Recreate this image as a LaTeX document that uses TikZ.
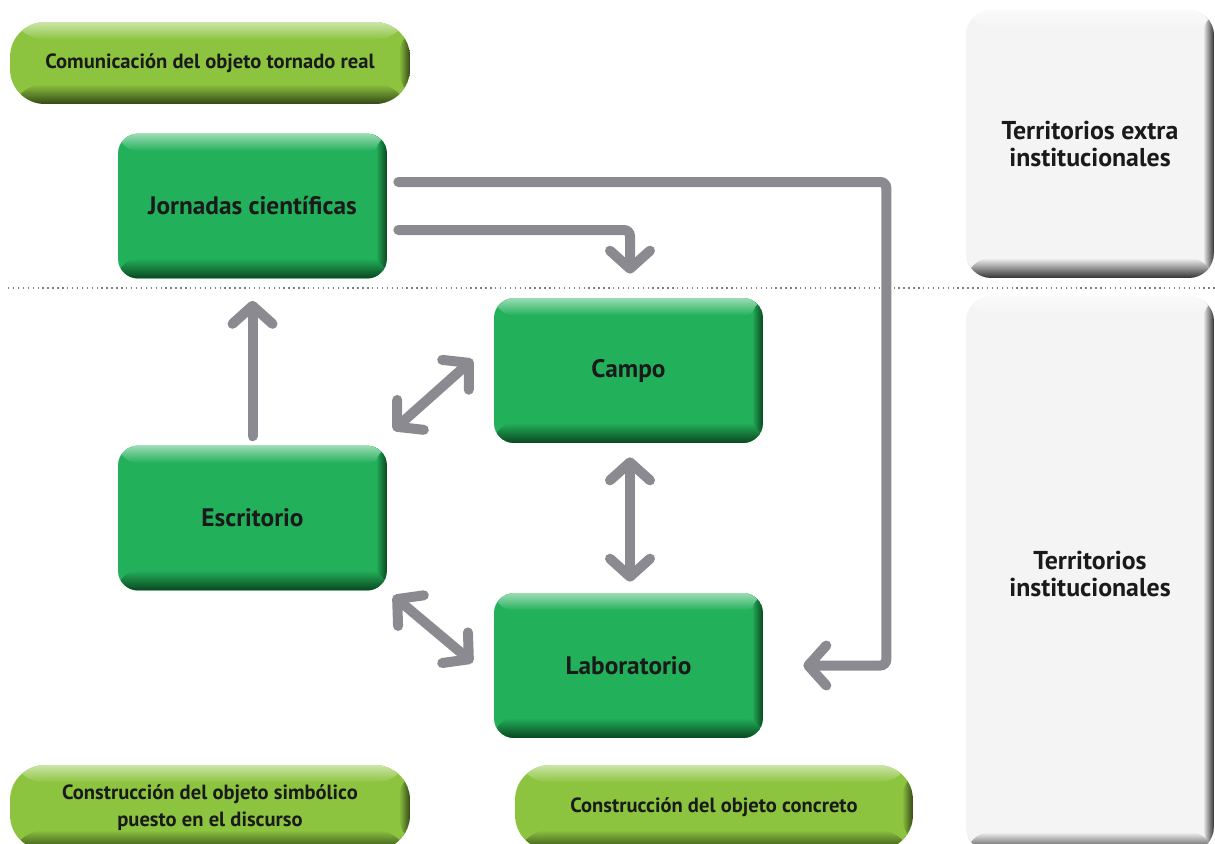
\documentclass[tikz,border=0pt]{standalone}
\usepackage{fontspec}
\setmainfont{PT Sans}
\usetikzlibrary{arrows.meta,calc}
\definecolor{verdecaja}{RGB}{34,176,90}
\definecolor{verdeoscuro}{RGB}{10,70,32}
\definecolor{verdepildora}{RGB}{140,196,64}
\definecolor{olivaoscuro}{RGB}{52,72,22}
\definecolor{grisclaro}{RGB}{244,244,244}
\definecolor{grisoscuro}{RGB}{50,50,50}
\definecolor{grisflecha}{RGB}{138,138,144}
\definecolor{texto}{RGB}{26,26,26}
\tikzset{
  relieve/.style 2 args={
    path picture={
      \fill[#1] (path picture bounding box.south west) rectangle (path picture bounding box.north east);
      \shade[top color=#1!45!white, bottom color=#1] (path picture bounding box.north west) rectangle ([yshift=-0.35cm]path picture bounding box.north east);
      \shade[left color=#1, right color=#2] ([xshift=-0.22cm]path picture bounding box.south east) rectangle (path picture bounding box.north east);
      \shade[top color=#1, bottom color=#2] ([yshift=0.4cm]path picture bounding box.south west) rectangle (path picture bounding box.south east);
    }},
  caja/.style={relieve={verdecaja}{verdeoscuro}, rounded corners=0.4cm, minimum width=5.38cm, minimum height=2.9cm,
    text=texto, font=\fontsize{14.4}{16}\selectfont\bfseries},
  pildora/.style={relieve={verdepildora}{olivaoscuro}, rounded corners=0.7cm, minimum height=1.64cm,
    text=texto, align=center, font=\fontsize{11.7}{15.4}\selectfont\bfseries},
  territorio/.style={relieve={grisclaro}{grisoscuro}, rounded corners=0.5cm, minimum width=4.96cm,
    text=texto, align=center, font=\fontsize{14.7}{15}\selectfont\bfseries},
  flecha/.style={line width=0.2cm, grisflecha, line cap=round, rounded corners=0.12cm},
  punta/.tip={Straight Barb[length=0.36cm, width=0.8cm, round]},
}
\begin{document}
\begin{tikzpicture}[x=0.02cm, y=-0.02cm]
	\useasboundingbox (0,0) rectangle (1215,843);
	% Línea punteada que separa los territorios
	\draw[dotted, gray, line width=0.8pt] (8,288) -- (1215,288);
	% Territorios
	\node[territorio, minimum height=5.36cm] (extra) at (1090,144) {Territorios extra\\institucionales};
	\node[territorio, minimum height=11.12cm] (inst) at (1090,574) {Territorios\\institucionales};
	% Etiquetas de las etapas
	\node[pildora, minimum width=8cm] (comunicacion) at (210,63) {Comunicación del objeto tornado real};
	\node[pildora, minimum width=8cm, minimum height=1.7cm] (simbolico) at (210,807.5) {Construcción del objeto simbólico\\puesto en el discurso};
	\node[pildora, minimum width=7.96cm, minimum height=1.7cm] (concreto) at (714,807.5) {Construcción del objeto concreto};
	% Espacios de trabajo
	\node[caja] (jor) at (252.5,206) {Jornadas científicas};
	\node[caja] (campo) at (628.5,370.5) {Campo};
	\node[caja] (esc) at (252.5,518) {Escritorio};
	\node[caja] (lab) at (628.5,665.5) {Laboratorio};
	% Flechas
	\draw[flecha, -punta] ([shift={(11,-24)}]jor.east) -| ([shift={(123,0)}]lab.east) -- ([shift={(40,0)}]lab.east);
	\draw[flecha, -punta] ([shift={(11,24)}]jor.east) -| ([shift={(1.5,-24)}]campo.north);
	\draw[flecha, -punta] ([shift={(0,-9)}]esc.north) -- ([shift={(0,22)}]jor.south);
	\draw[flecha, punta-punta] ([shift={(6,-15)}]esc.north east) -- ([shift={(-21,-11)}]campo.west);
	\draw[flecha, punta-punta] ([shift={(1.5,14)}]campo.south) -- ([shift={(1.5,-11)}]lab.north);
	\draw[flecha, punta-punta] ([shift={(6,5)}]esc.south east) -- ([shift={(-21,-3)}]lab.west);
\end{tikzpicture}
\end{document}
